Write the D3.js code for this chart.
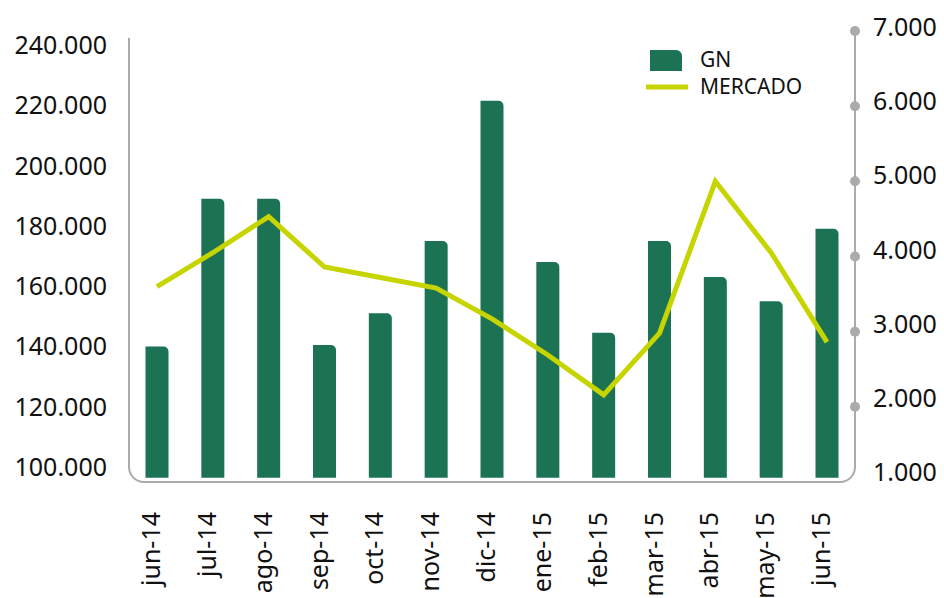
<!DOCTYPE html>
<meta charset="utf-8">
<style>
body {
    margin: 0;
    background: #fff;
    font-family: "Noto Sans", "Open Sans", sans-serif;
}
.tick-label {
    font-size: 25px;
    fill: #111;
}
.legend text {
    font-size: 21px;
    fill: #111;
}
.frame {
    fill: none;
    stroke: #ababab;
    stroke-width: 2px;
}
.bar {
    fill: #1b7353;
}
.mercado {
    fill: none;
    stroke: #c6d400;
    stroke-width: 5px;
    stroke-linejoin: miter;
}
</style>
<body>
<script src="https://d3js.org/d3.v7.min.js"></script>
<script>
// data
var months = ["jun-14", "jul-14", "ago-14", "sep-14", "oct-14", "nov-14", "dic-14",
              "ene-15", "feb-15", "mar-15", "abr-15", "may-15", "jun-15"];
var gn = [140000, 189000, 189000, 140500, 151000, 175000, 221500,
          168000, 144500, 175000, 163000, 155000, 179000];
var mercado = [3600, 4050, 4530, 3860, 3720, 3580, 3170,
               2690, 2160, 2980, 5000, 4050, 2860];
var leftTicks = [100000, 120000, 140000, 160000, 180000, 200000, 220000, 240000];
var rightTicks = [1000, 2000, 3000, 4000, 5000, 6000, 7000];
var barBase = 96400;

var width = 944, height = 598;
var fmt = function(v) { return d3.format(",")(v).replace(/,/g, "."); };

var svg = d3.select("body").append("svg")
    .attr("width", width)
    .attr("height", height);

// scales
var x = d3.scalePoint().domain(months).range([157, 827]);
var yL = d3.scaleLinear().domain([100000, 240000]).range([467, 45]);
var yR = d3.scaleLinear().domain([1000, 7000]).range([482, 31]);

var left = 129, right = 855, bottom = yR(1000), r = 15;

// frame: left axis, rounded bottom, right axis
svg.append("path")
    .attr("class", "frame")
    .attr("d", "M" + left + "," + 38 +
        " V" + (bottom - r) +
        " A" + r + "," + r + " 0 0 0 " + (left + r) + "," + bottom +
        " H" + (right - r) +
        " A" + r + "," + r + " 0 0 0 " + right + "," + (bottom - r) +
        " V" + yR(7000));

// right axis dots
svg.selectAll(".dot")
    .data(rightTicks.filter(function(d) { return d > 1000; }))
    .enter().append("circle")
    .attr("cx", right)
    .attr("cy", function(d) { return yR(d); })
    .attr("r", 5)
    .attr("fill", "#ababab");

// left tick labels
svg.selectAll(".ltick")
    .data(leftTicks)
    .enter().append("text")
    .attr("class", "tick-label")
    .attr("x", 107)
    .attr("y", function(d) { return yL(d); })
    .attr("dy", "0.36em")
    .attr("text-anchor", "end")
    .text(fmt);

// right tick labels
svg.selectAll(".rtick")
    .data(rightTicks)
    .enter().append("text")
    .attr("class", "tick-label")
    .attr("x", 873)
    .attr("y", function(d) { return yR(d) - 4 - (7000 - d) / 1000; })
    .attr("dy", "0.36em")
    .text(fmt);

// x labels
svg.selectAll(".xtick")
    .data(months)
    .enter().append("text")
    .attr("class", "tick-label")
    .attr("transform", function(d) { return "translate(" + (x(d) - 6) + ",512) rotate(-90)"; })
    .attr("dy", "0.36em")
    .attr("text-anchor", "end")
    .text(function(d) { return d; });

// bar with a rounded top-right corner
function barPath(cx, top, base, w, rr) {
    var x0 = cx - w / 2, x1 = cx + w / 2;
    return "M" + x0 + "," + base + " V" + top + " H" + (x1 - rr) +
        " A" + rr + "," + rr + " 0 0 1 " + x1 + "," + (top + rr) +
        " V" + base + " Z";
}

var bw = 23;
svg.selectAll(".bar")
    .data(months)
    .enter().append("path")
    .attr("class", "bar")
    .attr("d", function(d, i) { return barPath(x(d), yL(gn[i]), yL(barBase), bw, 5); });

// MERCADO line
var line = d3.line()
    .x(function(d, i) { return x(months[i]); })
    .y(function(d) { return yR(d); });

svg.append("path")
    .attr("class", "mercado")
    .attr("d", line(mercado));

// legend
var lg = svg.append("g").attr("class", "legend");
lg.append("path")
    .attr("class", "bar")
    .attr("d", barPath(666, 50, 71, 32, 6));
lg.append("line")
    .attr("x1", 646).attr("x2", 688)
    .attr("y1", 87).attr("y2", 87)
    .attr("stroke", "#c6d400")
    .attr("stroke-width", 5);
lg.append("text").attr("x", 700).attr("y", 59).attr("dy", "0.36em").text("GN");
lg.append("text").attr("x", 700).attr("y", 86).attr("dy", "0.36em").text("MERCADO");
</script>
</body>
